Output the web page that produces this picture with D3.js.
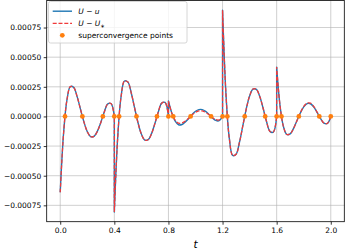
<!DOCTYPE html>
<html><head><meta charset="utf-8">
<script src="https://cdn.jsdelivr.net/npm/d3@7/dist/d3.min.js"></script>
<style>html,body{margin:0;padding:0;background:#fff}svg{display:block}text{font-family:"DejaVu Sans",sans-serif}</style>
</head><body><svg id="c" width="346" height="249"></svg>
<script>
// sample times (duplicated at element nodes where the error jumps)
const tVals = [
 0,0.025,0.05,0.075,0.1,0.125,0.15,0.175,0.2,0.225,0.25,0.275,0.3,0.325,0.35,0.375,0.4,
 0.4,0.425,0.45,0.475,0.5,0.525,0.55,0.575,0.6,0.625,0.65,0.675,0.7,0.725,0.75,0.775,0.8,
 0.8,0.825,0.85,0.875,0.9,0.925,0.95,0.975,1.0,1.025,1.05,1.075,1.1,1.125,1.15,1.175,1.2,
 1.2,1.225,1.25,1.275,1.3,1.325,1.35,1.375,1.4,1.425,1.45,1.475,1.5,1.525,1.55,1.575,1.6,
 1.6,1.625,1.65,1.675,1.7,1.725,1.75,1.775,1.8,1.825,1.85,1.875,1.9,1.925,1.95,1.975,2.0
];
// U - u
const errU = [
 -6.40e-4,-1.38e-4,1.42e-4,2.52e-4,2.44e-4,1.67e-4,0.60e-4,-0.46e-4,-1.28e-4,-1.70e-4,-1.68e-4,-1.24e-4,-0.51e-4,0.35e-4,1.04e-4,1.09e-4,0,
 -8.06e-4,-1.74e-4,1.68e-4,2.99e-4,2.90e-4,1.98e-4,0.71e-4,-0.53e-4,-1.49e-4,-1.99e-4,-1.96e-4,-1.45e-4,-0.59e-4,0.38e-4,1.12e-4,1.18e-4,0,
 1.30e-4,0.28e-4,-0.39e-4,-0.70e-4,-0.68e-4,-0.46e-4,-0.17e-4,0.16e-4,0.44e-4,0.58e-4,0.58e-4,0.43e-4,0.17e-4,-0.12e-4,-0.34e-4,-0.36e-4,0,
 8.96e-4,1.93e-4,-1.85e-4,-3.29e-4,-3.19e-4,-2.18e-4,-0.78e-4,0.62e-4,1.73e-4,2.31e-4,2.28e-4,1.68e-4,0.69e-4,-0.43e-4,-1.26e-4,-1.33e-4,0,
 4.16e-4,0.90e-4,-0.85e-4,-1.52e-4,-1.47e-4,-1.01e-4,-0.36e-4,0.29e-4,0.81e-4,1.08e-4,1.07e-4,0.79e-4,0.32e-4,-0.19e-4,-0.56e-4,-0.59e-4,0
];
// U - U_*
const errUstar = [
 -6.40e-4,-1.38e-4,1.42e-4,2.52e-4,2.44e-4,1.67e-4,0.60e-4,-0.46e-4,-1.28e-4,-1.70e-4,-1.68e-4,-1.24e-4,-0.51e-4,0.35e-4,1.04e-4,1.09e-4,0,
 -8.06e-4,-1.74e-4,1.68e-4,2.99e-4,2.90e-4,1.98e-4,0.71e-4,-0.53e-4,-1.49e-4,-1.99e-4,-1.96e-4,-1.45e-4,-0.59e-4,0.38e-4,1.12e-4,1.18e-4,0,
 1.30e-4,0.28e-4,-0.32e-4,-0.57e-4,-0.55e-4,-0.38e-4,-0.14e-4,0.13e-4,0.35e-4,0.47e-4,0.46e-4,0.34e-4,0.14e-4,-0.09e-4,-0.27e-4,-0.29e-4,0,
 8.96e-4,1.93e-4,-1.85e-4,-3.29e-4,-3.19e-4,-2.18e-4,-0.78e-4,0.62e-4,1.73e-4,2.31e-4,2.28e-4,1.68e-4,0.69e-4,-0.43e-4,-1.26e-4,-1.33e-4,0,
 4.16e-4,0.90e-4,-0.85e-4,-1.52e-4,-1.47e-4,-1.01e-4,-0.36e-4,0.30e-4,0.85e-4,1.13e-4,1.12e-4,0.83e-4,0.34e-4,-0.19e-4,-0.56e-4,-0.59e-4,0
];
// superconvergence points
const superT = [0.0354,0.1638,0.3151,0.4,0.4354,0.5638,0.7151,0.8,0.8354,0.9638,1.1151,1.2,
                1.2354,1.3638,1.5151,1.6,1.6354,1.7638,1.9151,2.0];
const superV = [0,0,0,0,0,0,0,0,0,0,0,0,0,0,0,0,0,0,0,0];

const xTicks = [0.0,0.4,0.8,1.2,1.6,2.0];
const xTickLabels = ["0.0","0.4","0.8","1.2","1.6","2.0"];
const yTicks = [-0.00075,-0.0005,-0.00025,0,0.00025,0.0005,0.00075];
const yTickLabels = ["\u22120.00075","\u22120.00050","\u22120.00025","0.00000","0.00025","0.00050","0.00075"];

const L = 46.7, R = 344.3, T = 0.5, B = 221.7;
const svg = d3.select("#c");
const x = d3.scaleLinear().domain([-0.1, 2.1]).range([L, R]);
const y = d3.scaleLinear().domain([-0.000888, 0.000978]).range([B, T]);

// grid
const g = svg.append("g");
g.selectAll(".gx").data(xTicks).enter().append("line")
  .attr("x1", d => x(d)).attr("x2", d => x(d)).attr("y1", T).attr("y2", B)
  .attr("stroke", "#b0b0b0").attr("stroke-opacity", 0.6).attr("stroke-width", 1);
g.selectAll(".gy").data(yTicks).enter().append("line")
  .attr("y1", d => y(d)).attr("y2", d => y(d)).attr("x1", L).attr("x2", R)
  .attr("stroke", "#b0b0b0").attr("stroke-opacity", 0.6).attr("stroke-width", 1);

// axes
const xAxis = d3.axisBottom(x).tickValues(xTicks).tickFormat((d,i) => xTickLabels[i]).tickSize(3).tickPadding(3);
const yAxis = d3.axisLeft(y).tickValues(yTicks).tickFormat((d,i) => yTickLabels[i]).tickSize(3).tickPadding(2.5);
const ax = svg.append("g").attr("transform", `translate(0,${B})`).call(xAxis);
const ay = svg.append("g").attr("transform", `translate(${L},0)`).call(yAxis);
[ax, ay].forEach(a => {
  a.select(".domain").remove();
  a.selectAll("line").attr("stroke", "#000").attr("stroke-width", 0.8);
  a.selectAll("text").attr("font-family", "DejaVu Sans").attr("font-size", 7.5).attr("fill", "#000");
});

// series paths: split at nodes where t repeats, join with straight jumps
function buildPath(vals) {
  const pts = tVals.map((t, i) => [t, vals[i]]);
  const runs = [[pts[0]]];
  for (let i = 1; i < pts.length; i++) {
    if (pts[i][0] === pts[i-1][0]) runs.push([]);
    runs[runs.length-1].push(pts[i]);
  }
  const line = d3.line().x(d => x(d[0])).y(d => y(d[1])).curve(d3.curveCatmullRom.alpha(0.5));
  const parts = runs.map(r => line(r));
  return parts[0] + parts.slice(1).map(p => "L" + p.slice(1)).join("");
}
const RED = "#f03a3a";
svg.append("path").attr("d", buildPath(errU)).attr("fill", "none")
  .attr("stroke", "#1f77b4").attr("stroke-width", 1.4).attr("stroke-linejoin", "round");
svg.append("path").attr("d", buildPath(errUstar)).attr("fill", "none")
  .attr("stroke", RED).attr("stroke-width", 1.25).attr("stroke-dasharray", "4,1.8");

svg.selectAll(".pt").data(superT).enter().append("circle")
  .attr("cx", d => x(d)).attr("cy", (d,i) => y(superV[i])).attr("r", 2.4).attr("fill", "#ff7f0e");

// spines
svg.append("rect").attr("x", L).attr("y", T).attr("width", R - L).attr("height", B - T)
  .attr("fill", "none").attr("stroke", "#000").attr("stroke-width", 0.8);

// x label
svg.append("text").attr("x", (L + R) / 2).attr("y", 247.5).attr("text-anchor", "middle")
  .attr("font-size", 10.5).attr("font-style", "italic").text("t");

// legend
const lg = svg.append("g");
lg.append("rect").attr("x", 48.5).attr("y", 1.5).attr("width", 138.5).attr("height", 41.5).attr("rx", 2)
  .attr("fill", "#fff").attr("fill-opacity", 0.8).attr("stroke", "#cccccc").attr("stroke-width", 0.8);
const ly = [11.2, 23.4, 35.3];
lg.append("line").attr("x1", 52.7).attr("x2", 72).attr("y1", ly[0]).attr("y2", ly[0])
  .attr("stroke", "#1f77b4").attr("stroke-width", 1.4);
lg.append("line").attr("x1", 52.7).attr("x2", 72).attr("y1", ly[1]).attr("y2", ly[1])
  .attr("stroke", RED).attr("stroke-width", 1.25).attr("stroke-dasharray", "4,1.8");
lg.append("circle").attr("cx", 62.3).attr("cy", ly[2]).attr("r", 2.4).attr("fill", "#ff7f0e");
const t1 = lg.append("text").attr("x", 78.3).attr("y", ly[0]).attr("dy", "0.35em").attr("font-size", 7.5);
t1.append("tspan").attr("font-style", "italic").text("U");
t1.append("tspan").text(" \u2212 ");
t1.append("tspan").attr("font-style", "italic").text("u");
const t2 = lg.append("text").attr("x", 78.3).attr("y", ly[1]).attr("dy", "0.35em").attr("font-size", 7.5);
t2.append("tspan").attr("font-style", "italic").text("U");
t2.append("tspan").text(" \u2212 ");
t2.append("tspan").attr("font-style", "italic").text("U");
t2.append("tspan").attr("font-size", 5.5).attr("dy", 1.5).text("\u2217");
lg.append("text").attr("x", 78.3).attr("y", ly[2]).attr("dy", "0.35em").attr("font-size", 7.5)
  .text("superconvergence points");
</script></body></html>
